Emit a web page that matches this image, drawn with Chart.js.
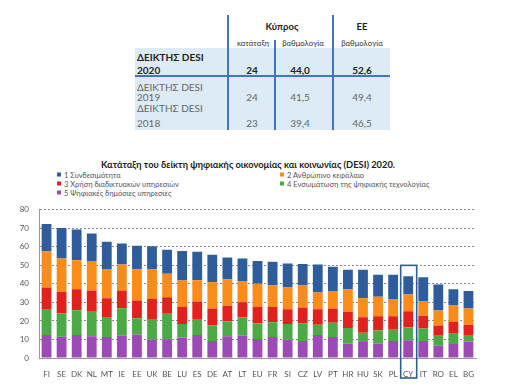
<!DOCTYPE html>
<html>
<head>
<meta charset="utf-8">
<script src="https://cdn.jsdelivr.net/npm/chart.js@4"></script>
<style>
body { margin: 0; width: 507px; height: 384px; background: #fff; position: relative; overflow: hidden; font-family: Lato, "Open Sans", sans-serif; }
.c { position: absolute; white-space: nowrap; transform: translate(-50%, -50%); }
.l { position: absolute; white-space: nowrap; transform: translateY(-50%); }
.vl { position: absolute; width: 2px; background: #4472c4; }
.hl { position: absolute; height: 2px; background: #4472c4; }
#shade { position: absolute; left: 135px; top: 48px; width: 255px; height: 82px; background: #dcebf6; }
#legend div { position: absolute; font-size: 7.5px; color: #555; white-space: nowrap; transform: translateY(-50%); }
#legend span { display: inline-block; width: 4px; height: 4px; margin-right: 3px; vertical-align: middle; position: relative; top: -1px; }
#title { position: absolute; left: 248px; top: 164px; font-size: 9.3px; font-weight: bold; color: #222; white-space: nowrap; transform: translate(-50%, -50%); }
#wrap { position: absolute; left: 0; top: 195px; width: 507px; height: 189px; }
</style>
</head>
<body>
<div id="shade"></div>
<div id="table"></div>
<div id="title">Κατάταξη του δείκτη ψηφιακής οικονομίας και κοινωνίας (DESI) 2020.</div>
<div id="legend"></div>
<div id="wrap"><canvas id="chart"></canvas></div>
<script>
// table
var tableYears = ['2020', '2019', '2018'];
var rankCY = ['24', '24', '23'];
var scoreCY = ['44,0', '41,5', '39,4'];
var scoreEU = ['52,6', '49,4', '46,5'];

// chart
var countries = ['FI','SE','DK','NL','MT','IE','EE','UK','BE','LU','ES','DE','AT','LT','EU','FR','SI','CZ','LV','PT','HR','HU','SK','PL','CY','IT','RO','EL','BG'];
var connectivity   = [14.8,16.5,16.5,14.9,14.6,11.3,12.7,12.4,13.0,15.9,15.3,14.8,11.7,12.4,12.2,12.7,13.0,11.5,15.1,13.2,10.5,15.4,11.8,13.0,9.8,12.8,14.1,8.7,9.5];
var humanCapital   = [19.5,18.0,15.7,15.9,15.9,14.1,16.9,16.0,12.7,14.3,11.5,14.2,14.3,11.2,12.4,11.7,11.7,12.0,9.1,9.4,12.2,10.2,10.5,9.3,9.0,8.0,8.0,8.7,8.8];
var internetUse    = [11.9,11.7,11.3,11.5,10.1,9.6,9.6,10.8,8.9,9.2,9.4,9.1,8.5,8.3,8.9,8.2,8.0,8.6,8.4,7.7,8.7,8.4,7.8,7.3,8.7,6.9,5.6,6.6,5.5];
var integration    = [13.7,12.5,13.4,13.1,10.8,14.8,8.7,11.3,13.8,7.3,8.7,8.4,7.9,9.8,8.5,8.0,8.4,9.4,5.5,7.7,8.4,4.9,7.0,6.1,7.0,6.7,5.4,5.6,3.5];
var publicServices = [12.4,11.5,12.4,11.8,11.3,12.0,12.7,9.8,10.1,11.0,12.4,9.2,11.8,12.0,10.3,11.3,9.9,9.2,12.4,11.3,7.8,8.7,7.8,9.2,9.6,9.2,6.6,7.5,8.9];
var seriesNames = ['1 Συνδεσιμότητα', '2 Ανθρώπινο κεφάλαιο', '3 Χρήση διαδικτυακών υπηρεσιών', '4 Ενσωμάτωση της ψηφιακής τεχνολογίας', '5 Ψηφιακές δημόσιες υπηρεσίες'];
var seriesColors = ['#2f5c9b', '#fb8c1c', '#e1211d', '#4caa46', '#9c4ab5'];
var highlight = 'CY';

// --- table (html)
var tbl = document.getElementById('table');
var put = function (cls, x, y, txt, css) {
    var d = document.createElement('div');
    d.className = cls;
    d.style.left = x + 'px';
    d.style.top = y + 'px';
    d.style.cssText += css || '';
    d.textContent = txt;
    tbl.appendChild(d);
};
put('c', 282, 26, 'Κύπρος', 'font-size:9.5px;font-weight:bold;color:#222');
put('c', 362, 26, 'ΕΕ', 'font-size:9.5px;font-weight:bold;color:#222');
put('c', 253, 43, 'κατάταξη', 'font-size:7.8px;color:#333');
put('c', 303, 43, 'βαθμολογία', 'font-size:7.8px;color:#333');
put('c', 362, 43, 'βαθμολογία', 'font-size:7.8px;color:#333');
var rowY = [[57, 70], [87, 97], [108, 123]];
for (var i = 0; i < tableYears.length; i++) {
    var css = i === 0 ? 'font-size:10px;font-weight:bold;color:#222' : 'font-size:10px;color:#666';
    put('l', 137, rowY[i][0], 'ΔΕΙΚΤΗΣ DESI', css);
    put('l', 137, rowY[i][1], tableYears[i], css);
    put('c', 252, rowY[i][1], rankCY[i], css);
    put('c', 300, rowY[i][1], scoreCY[i], css);
    put('c', 362, rowY[i][1], scoreEU[i], css);
}
[[228, 15, 115], [275, 40, 90], [333, 15, 115]].forEach(function (v) {
    var d = document.createElement('div');
    d.className = 'vl';
    d.style.left = (v[0] - 1) + 'px'; d.style.top = v[1] + 'px'; d.style.height = v[2] + 'px';
    tbl.appendChild(d);
});
var h = document.createElement('div');
h.className = 'hl';
h.style.left = '135px'; h.style.top = '75px'; h.style.width = '255px';
tbl.appendChild(h);

// --- legend (html)
var legendPos = [[57, 175], [280, 175], [57, 184], [280, 184], [57, 193]];
var lg = document.getElementById('legend');
for (var k = 0; k < seriesNames.length; k++) {
    var it = document.createElement('div');
    it.style.left = legendPos[k][0] + 'px';
    it.style.top = legendPos[k][1] + 'px';
    it.innerHTML = '<span style="background:' + seriesColors[k] + '"></span>' + seriesNames[k];
    lg.appendChild(it);
}

// --- chart
var boxPlugin = {
    id: 'cyBox',
    afterDatasetsDraw: function (chart) {
        var x = chart.scales.x, y = chart.scales.y, ctx = chart.ctx;
        var idx = countries.indexOf(highlight);
        var cx = x.getPixelForValue(idx);
        var top = y.getPixelForValue(50);
        var bottom = chart.chartArea.bottom + 20;
        ctx.save();
        ctx.strokeStyle = '#2f5c9b';
        ctx.lineWidth = 1.6;
        ctx.strokeRect(cx - 7.5, top, 16, bottom - top);
        ctx.restore();
    }
};

var mk = function (label, data, color) {
    return { label: label, data: data, backgroundColor: color, barPercentage: 0.65, categoryPercentage: 1 };
};

new Chart(document.getElementById('chart'), {
    type: 'bar',
    data: {
        labels: countries,
        datasets: [
            mk(seriesNames[4], publicServices, seriesColors[4]),
            mk(seriesNames[3], integration, seriesColors[3]),
            mk(seriesNames[2], internetUse, seriesColors[2]),
            mk(seriesNames[1], humanCapital, seriesColors[1]),
            mk(seriesNames[0], connectivity, seriesColors[0])
        ]
    },
    options: {
        responsive: true,
        maintainAspectRatio: false,
        animation: false,
        layout: { padding: { top: 10, right: 31, left: 0, bottom: 0 } },
        plugins: { legend: { display: false }, tooltip: { enabled: false } },
        scales: {
            x: {
                stacked: true,
                grid: { display: false },
                border: { display: true, color: '#999' },
                ticks: { color: '#555', font: { family: 'Lato', size: 8 }, padding: 4, maxRotation: 0, autoSkip: false },
                afterFit: function (s) { s.height = 26; }
            },
            y: {
                stacked: true,
                min: 0, max: 80,
                grid: { color: '#8a8a8a', drawTicks: false },
                border: { display: true, color: '#999', dash: [2, 2] },
                ticks: { stepSize: 10, color: '#555', font: { family: 'Lato', size: 8 }, padding: 10 },
                afterFit: function (s) { s.width = 39; }
            }
        }
    },
    plugins: [boxPlugin]
});
</script>
</body>
</html>
